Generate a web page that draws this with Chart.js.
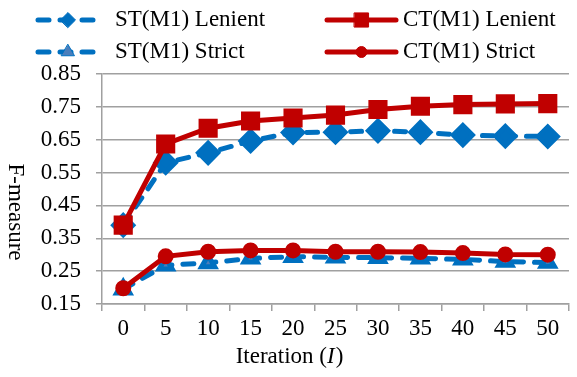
<!DOCTYPE html>
<html>
<head>
<meta charset="utf-8">
<script src="https://cdn.jsdelivr.net/npm/chart.js@4/dist/chart.umd.min.js"></script>
<style>
  html, body { margin: 0; padding: 0; background: #fff; overflow: hidden; }
  #wrap { width: 577px; height: 377px; overflow: hidden; position: relative; }
  canvas { position: absolute; left: 0; top: 0; }
</style>
</head>
<body>
<div id="wrap"><canvas id="chart" width="584" height="377"></canvas></div>
<script>
const iterations = ['0', '5', '10', '15', '20', '25', '30', '35', '40', '45', '50'];
const stLenient = [0.39, 0.58, 0.61, 0.646, 0.672, 0.673, 0.677, 0.673, 0.664, 0.661, 0.66];
const ctLenient = [0.39, 0.637, 0.685, 0.707, 0.716, 0.725, 0.742, 0.752, 0.757, 0.759, 0.76];
const stStrict = [0.195, 0.268, 0.275, 0.289, 0.294, 0.292, 0.291, 0.289, 0.286, 0.279, 0.276];
const ctStrict = [0.198, 0.295, 0.309, 0.313, 0.313, 0.309, 0.309, 0.308, 0.305, 0.301, 0.30];

const FONT = '"Liberation Serif", "Times New Roman", serif';
const FSIZE = 23;
const BLUE = '#0070c0';
const RED = '#c00000';
const GRID = '#a0a0a0';

// legend + axis titles are drawn by hand to match the original layout
const extras = {
    id: 'extras',
    afterDraw(chart) {
        const ctx = chart.ctx;
        const ds = chart.data.datasets;
        const items = [
            { d: ds[0], x1: 38, x2: 98, y: 20, tx: 115, r: 7.5 },
            { d: ds[2], x1: 327, x2: 396, y: 20, tx: 403 },
            { d: ds[1], x1: 38, x2: 98, y: 52, tx: 115 },
            { d: ds[3], x1: 327, x2: 396, y: 52, tx: 403 },
        ];
        ctx.save();
        items.forEach(it => {
            const d = it.d;
            ctx.strokeStyle = d.borderColor;
            ctx.lineWidth = d.borderWidth;
            ctx.lineCap = 'round';
            ctx.setLineDash(d.borderDash || []);
            ctx.beginPath();
            ctx.moveTo(it.x1, it.y);
            ctx.lineTo(it.x2, it.y);
            ctx.stroke();
            ctx.setLineDash([]);
            ctx.fillStyle = d.pointBackgroundColor;
            ctx.strokeStyle = d.pointBorderColor;
            ctx.lineWidth = 1;
            Chart.helpers.drawPoint(ctx, {
                pointStyle: d.pointStyle, radius: it.r || d.pointRadius, rotation: 0, borderWidth: 1
            }, (it.x1 + it.x2) / 2, it.y);
            ctx.fillStyle = '#000';
            ctx.font = FSIZE + 'px ' + FONT;
            ctx.textBaseline = 'middle';
            ctx.textAlign = 'left';
            ctx.fillText(d.label, it.tx, it.y);
        });

        // y title
        ctx.save();
        ctx.translate(15, 212);
        ctx.rotate(Math.PI / 2);
        ctx.textAlign = 'center';
        ctx.fillText('F-measure', 0, 0);
        ctx.restore();

        // x title with italic I
        const a = 'Iteration (', b = 'I', c = ')';
        ctx.font = FSIZE + 'px ' + FONT;
        const wa = ctx.measureText(a).width, wc = ctx.measureText(c).width;
        ctx.font = 'italic ' + FSIZE + 'px ' + FONT;
        const wb = ctx.measureText(b).width;
        const x = 289 - (wa + wb + wc) / 2;
        const y = 357;
        ctx.font = FSIZE + 'px ' + FONT;
        ctx.fillText(a, x, y);
        ctx.font = 'italic ' + FSIZE + 'px ' + FONT;
        ctx.fillText(b, x + wa, y);
        ctx.font = FSIZE + 'px ' + FONT;
        ctx.fillText(c, x + wa + wb + 1, y);
        ctx.restore();
    }
};

new Chart(document.getElementById('chart'), {
    type: 'line',
    data: {
        labels: iterations,
        datasets: [
            {
                label: 'ST(M1) Lenient', data: stLenient, order: 2,
                borderColor: BLUE, borderWidth: 5, borderDash: [11, 11], borderCapStyle: 'round',
                pointStyle: 'rectRot', pointRadius: 9.5,
                pointBackgroundColor: BLUE, pointBorderColor: BLUE,
            },
            {
                label: 'ST(M1) Strict', data: stStrict, order: 2,
                borderColor: BLUE, borderWidth: 5, borderDash: [11, 11], borderCapStyle: 'round',
                pointStyle: 'triangle', pointRadius: 7.5,
                pointBackgroundColor: '#4a7ebb', pointBorderColor: BLUE,
            },
            {
                label: 'CT(M1) Lenient', data: ctLenient, order: 1,
                borderColor: RED, borderWidth: 5,
                pointStyle: 'rect', pointRadius: 10,
                pointBackgroundColor: RED, pointBorderColor: RED,
            },
            {
                label: 'CT(M1) Strict', data: ctStrict, order: 1,
                borderColor: RED, borderWidth: 5,
                pointStyle: 'circle', pointRadius: 5.5,
                pointBackgroundColor: RED, pointBorderColor: RED,
            },
        ]
    },
    options: {
        responsive: false,
        animation: false,
        devicePixelRatio: 1,
        layout: { padding: { top: 74, left: 0, right: 0, bottom: 0 } },
        plugins: {
            legend: { display: false },
            tooltip: { enabled: false },
        },
        scales: {
            x: {
                type: 'category',
                offset: true,
                afterFit: s => { s.height = 73; },
                grid: { offset: true, drawOnChartArea: false, drawTicks: true, tickLength: 7, color: GRID, lineWidth: 1.5 },
                border: { color: GRID, width: 1.5 },
                ticks: { color: '#000', font: { family: FONT, size: FSIZE }, padding: 4, maxRotation: 0, autoSkip: false },
            },
            y: {
                min: 0.15,
                max: 0.85,
                afterFit: s => { s.width = 102; },
                grid: { color: GRID, lineWidth: 1.5, tickLength: 6 },
                border: { color: GRID, width: 1.5 },
                ticks: {
                    stepSize: 0.1, color: '#000', font: { family: FONT, size: FSIZE }, padding: 15,
                    callback: v => Number(v).toFixed(2),
                },
            }
        }
    },
    plugins: [extras]
});
</script>
</body>
</html>
